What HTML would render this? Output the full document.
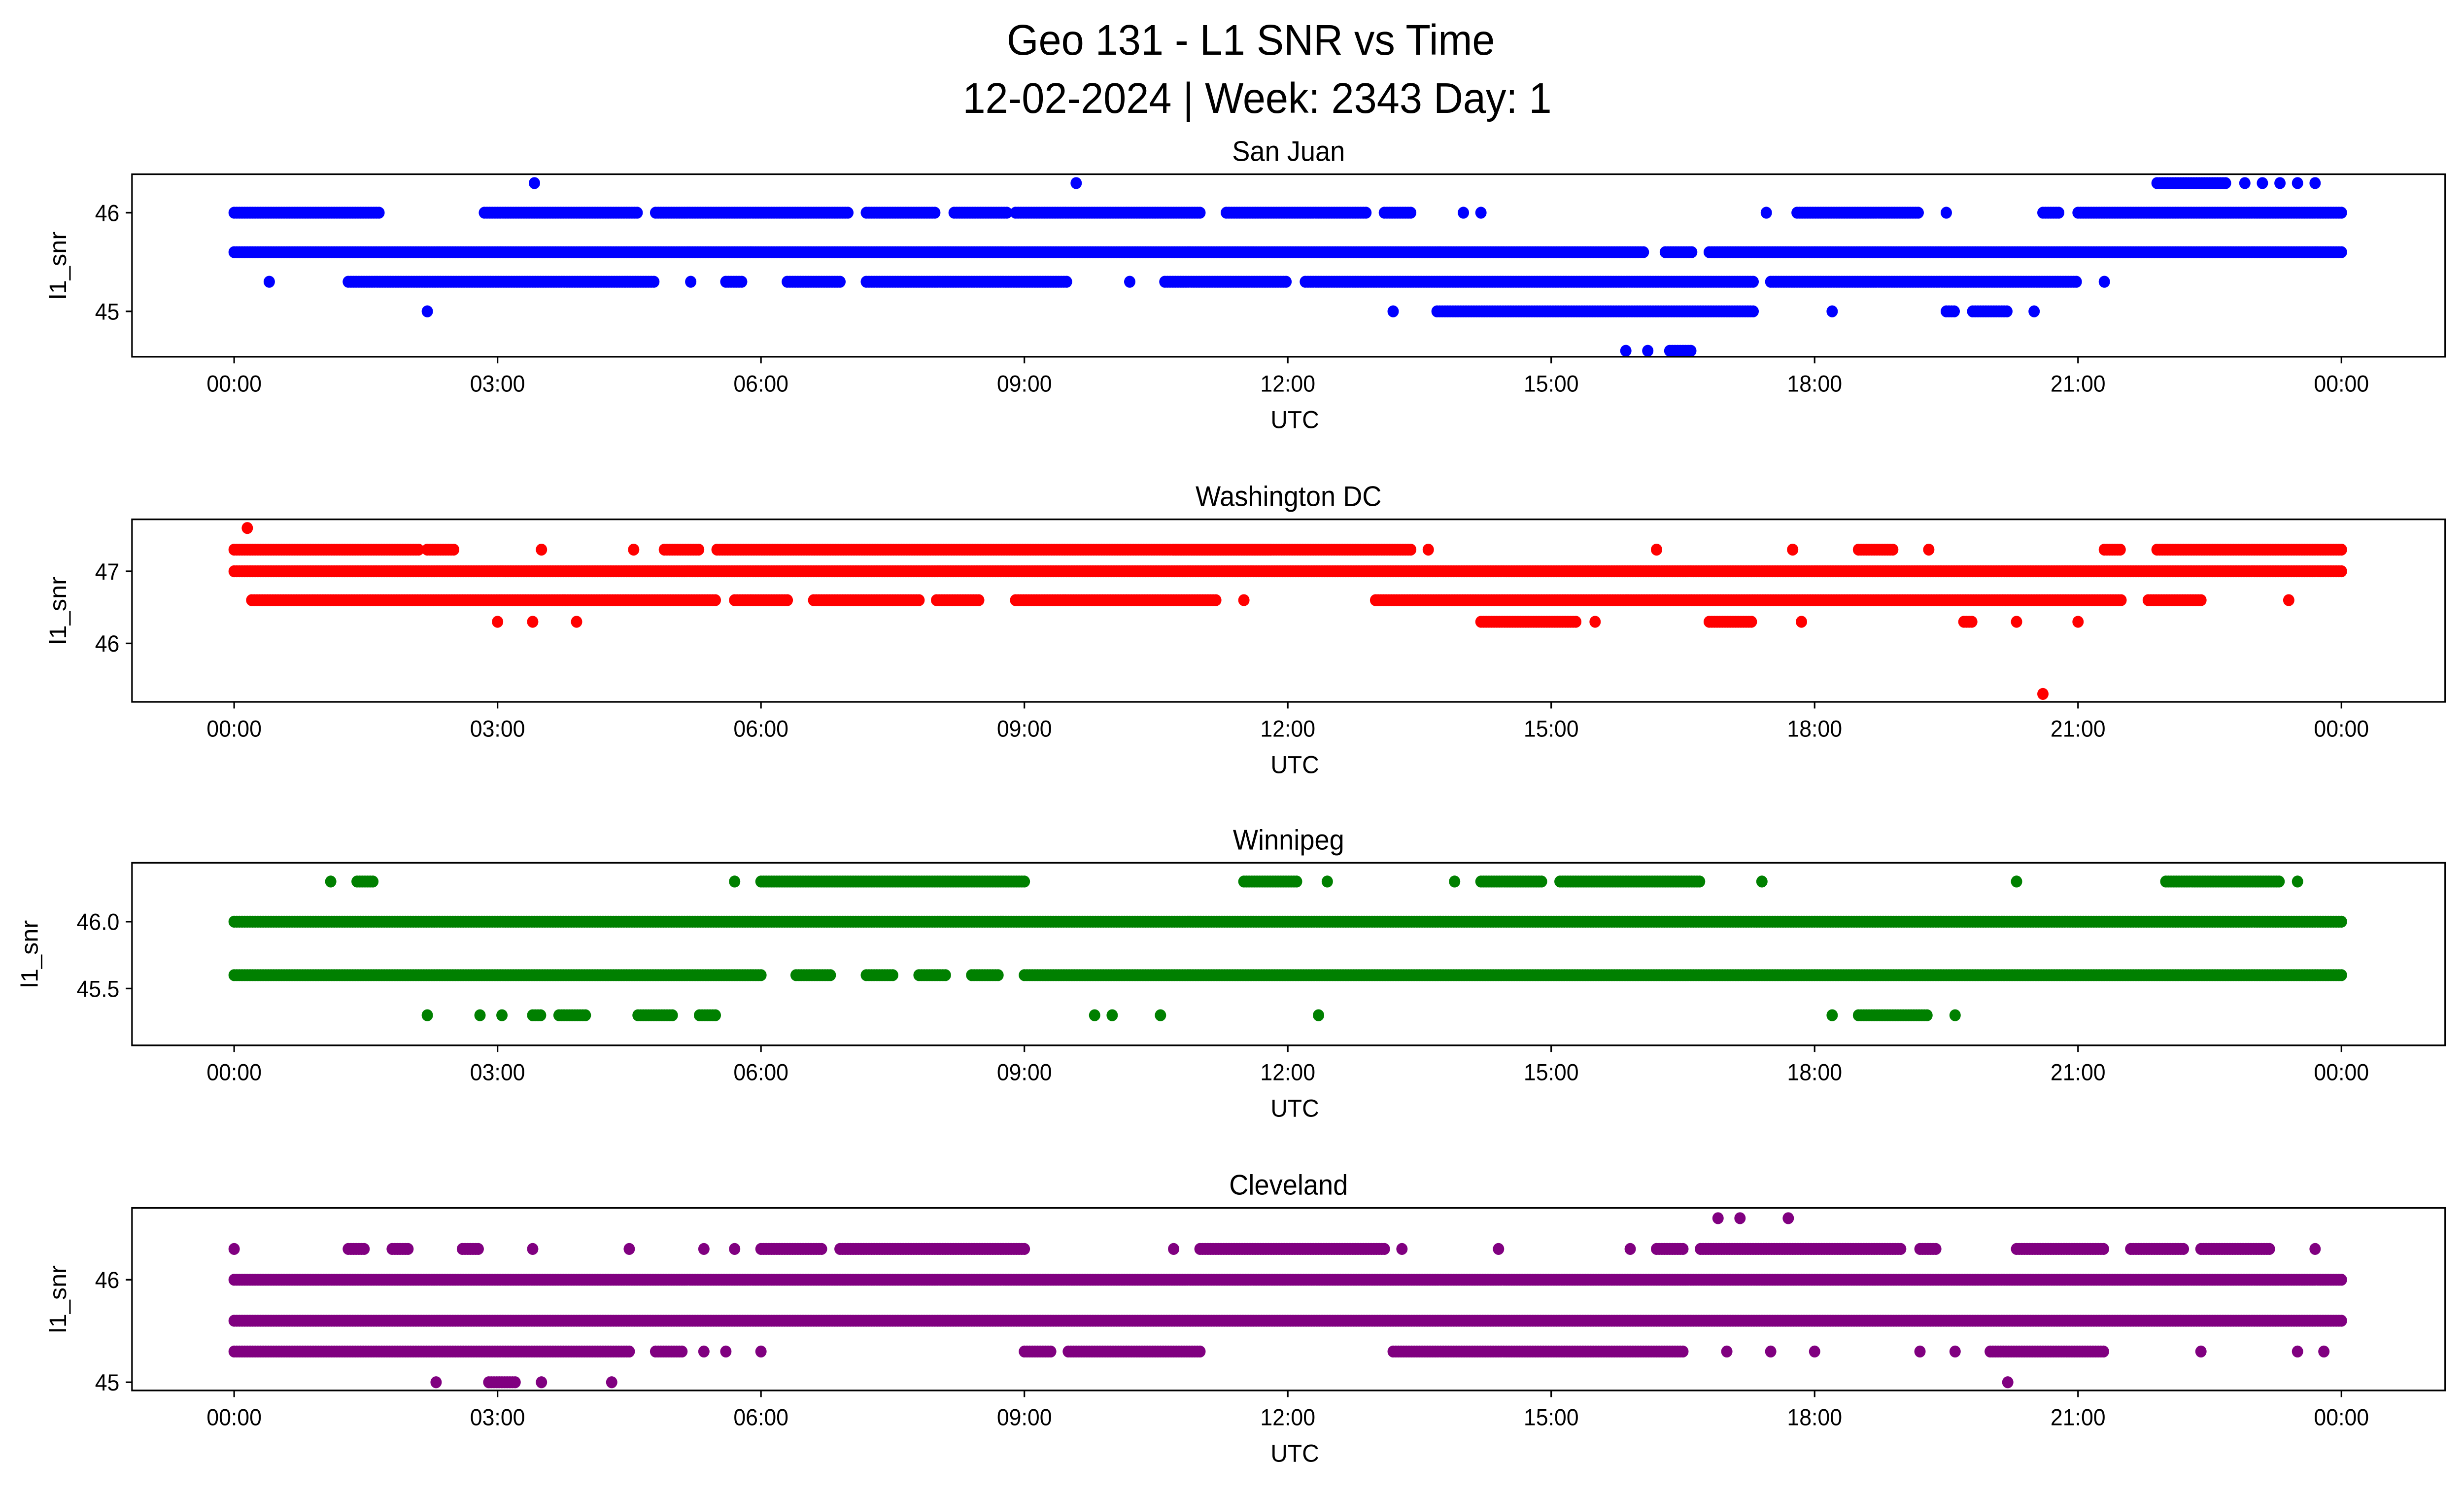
<!DOCTYPE html>
<html><head><meta charset="utf-8"><style>
html,body{margin:0;padding:0;background:#fff;overflow:hidden;width:100%;height:100%;}
svg{display:block;font-family:"Liberation Sans","DejaVu Sans",sans-serif;width:100vw;height:100vh;}
</style></head><body>
<svg id="chart" viewBox="0 0 1568 901" preserveAspectRatio="none" xmlns="http://www.w3.org/2000/svg">
<rect width="1568" height="901" fill="#fff"/>
<text x="796" y="33" font-size="26" text-anchor="middle" fill="#000">Geo 131 - L1 SNR vs Time</text>
<text x="800" y="68" font-size="26" text-anchor="middle" fill="#000">12-02-2024 | Week: 2343 Day: 1</text>
<g id="panels"></g>
</svg>
<script>
// Data: runs of dense observations [startHour, endHour] per SNR level; single value = isolated point
const stations = ["San Juan","Washington DC","Winnipeg","Cleveland"];
const colors = ["#0000ff","#ff0000","#008000","#800080"];
const yTicks = [[45,46],[46,47],[45.5,46.0],[45,46]];
const yTickLabels = [["45","46"],["46","47"],["45.5","46.0"],["45","46"]];
const yRanges = [[44.54,46.39],[45.19,47.72],[45.075,46.44],[44.92,46.70]];
const xTickHours = [0,3,6,9,12,15,18,21,24];
const xTickLabels = ["00:00","03:00","06:00","09:00","12:00","15:00","18:00","21:00","00:00"];

const sanJuan = {
  46.3:[3.42,9.59,[21.9,22.7],22.9,23.1,23.3,23.5,23.7],
  46.0:[[0,1.65],[2.85,4.6],[4.8,7.0],[7.2,8.0],[8.2,8.8],[8.9,11.0],[11.3,12.9],[13.1,13.4],14.0,14.2,17.45,[17.8,19.2],19.5,[20.6,20.8],[21.0,24]],
  45.6:[[0,16.05],[16.3,16.6],[16.8,24]],
  45.3:[0.4,[1.3,4.8],5.2,[5.6,5.8],[6.3,6.9],[7.2,9.5],10.2,[10.6,12.0],[12.2,17.3],[17.5,21.0],21.3],
  45.0:[2.2,13.2,[13.7,17.3],18.2,[19.5,19.6],[19.8,20.2],20.5],
  44.6:[15.85,16.1,[16.35,16.6]]
};
const washington = {
  47.6:[0.15],
  47.3:[[0,2.1],[2.2,2.5],3.5,4.55,[4.9,5.3],[5.5,11.8],[10.7,13.4],13.6,16.2,17.75,[18.5,18.9],19.3,[21.3,21.5],[21.9,24]],
  47.0:[[0,24]],
  46.6:[[0.2,5.5],[5.7,6.3],[6.6,7.8],[8.0,8.5],[8.9,11.2],11.5,[13.0,21.5],[21.8,22.4],23.4],
  46.3:[3.0,3.4,3.9,[14.2,15.3],15.5,[16.8,17.3],17.85,[19.7,19.8],20.3,21.0],
  45.3:[20.6]
};
const winnipeg = {
  46.3:[1.1,[1.4,1.6],5.7,[6.0,9.0],[11.5,12.1],12.45,13.9,[14.2,14.9],[15.1,16.7],17.4,20.3,[22.0,23.3],23.5],
  46.0:[[0,24]],
  45.6:[[0,6.0],[6.4,6.8],[7.2,7.5],[7.8,8.1],[8.4,8.7],[9.0,24]],
  45.3:[2.2,2.8,3.05,[3.4,3.5],[3.7,4.0],[4.6,5.0],[5.3,5.5],9.8,10.0,10.55,12.35,18.2,[18.5,19.3],19.6]
};
const cleveland = {
  46.6:[16.9,17.15,17.7],
  46.3:[0,[1.3,1.5],[1.8,2.0],[2.6,2.8],3.4,4.5,5.35,5.7,[6.0,6.7],[6.9,9.0],10.7,[11.0,13.1],13.3,14.4,15.9,[16.2,16.5],[16.7,19.0],[19.2,19.4],[20.3,21.3],[21.6,22.2],[22.4,23.2],23.7],
  46.0:[[0,24]],
  45.6:[[0,24]],
  45.3:[[0,4.5],[4.8,5.1],5.35,5.6,6.0,[9.0,9.3],[9.5,11.0],[13.2,16.5],17.0,17.5,18.0,19.2,19.6,[20.0,21.3],22.4,23.5,23.8],
  45.0:[2.3,[2.9,3.2],3.5,4.3,20.2]
};
const seriesData = [sanJuan,washington,winnipeg,cleveland];

const NS="http://www.w3.org/2000/svg";
const root=document.getElementById('panels');
const axL=84, axR=1556, axH=110;
const axTops=[105,313,520,728];
const x0=149, pxPerHour=(1490-149)/24;
function xScale(h){return x0+h*pxPerHour;}
function mk(tag,attrs,parent){const e=document.createElementNS(NS,tag);for(const k in attrs)e.setAttribute(k,attrs[k]);parent.appendChild(e);return e;}

stations.forEach((name,i)=>{
  const top=axTops[i], bot=top+axH;
  const [ymin,ymax]=yRanges[i];
  const yScale=v=>bot-(v-ymin)/(ymax-ymin)*axH;
  const g=mk('g',{},root);
  
  
  const t=mk('text',{x:(axL+axR)/2,y:top-8,'font-size':17,'text-anchor':'middle',fill:'#000'},g);
  t.textContent=name;
  
  
  const pg=mk('g',{fill:colors[i]},g);
  
  
  const d=seriesData[i];
  Object.keys(d).forEach(lv=>{
    const v=parseFloat(lv), cy=yScale(v);
    d[lv].forEach(item=>{
      let hs=[];
      if(Array.isArray(item)){for(let h=item[0];h<=item[1]+1e-6;h+=0.03)hs.push(h);}
      else hs.push(item);
      hs.forEach(h=>{
        const c=mk('circle',{cx:xScale(h).toFixed(2),cy:cy.toFixed(2),r:3.6},pg);
        
        
      });
    });
  });
  const fr=mk('rect',{x:axL,y:top,width:axR-axL,height:axH,fill:'none',stroke:'#000','stroke-width':1},g);
  
  
  xTickHours.forEach((h,k)=>{
    const x=xScale(h);
    mk('line',{x1:x,x2:x,y1:bot,y2:bot+4,stroke:'#000'},g);
    const tl=mk('text',{x:x,y:bot+21,'font-size':14,'text-anchor':'middle',fill:'#000'},g);
    tl.textContent=xTickLabels[k];
    
    
  });
  const xl=mk('text',{x:(axL+axR)/2+4,y:bot+43,'font-size':15,'text-anchor':'middle',fill:'#000'},g);
  xl.textContent='UTC';
  
  
  yTicks[i].forEach((v,k)=>{
    const y=yScale(v);
    mk('line',{x1:axL-4,x2:axL,y1:y,y2:y,stroke:'#000'},g);
    const tl=mk('text',{x:axL-8,y:y+5,'font-size':14,'text-anchor':'end',fill:'#000'},g);
    tl.textContent=yTickLabels[i][k];
    
    
  });
  const yx = i===2 ? 24 : 42;
  const yl=mk('text',{x:yx,y:top+axH/2,'font-size':15,'text-anchor':'middle',fill:'#000',transform:`rotate(-90 ${yx} ${top+axH/2})`},g);
  yl.textContent='l1_snr';
  
  
});
</script>
</body></html>
